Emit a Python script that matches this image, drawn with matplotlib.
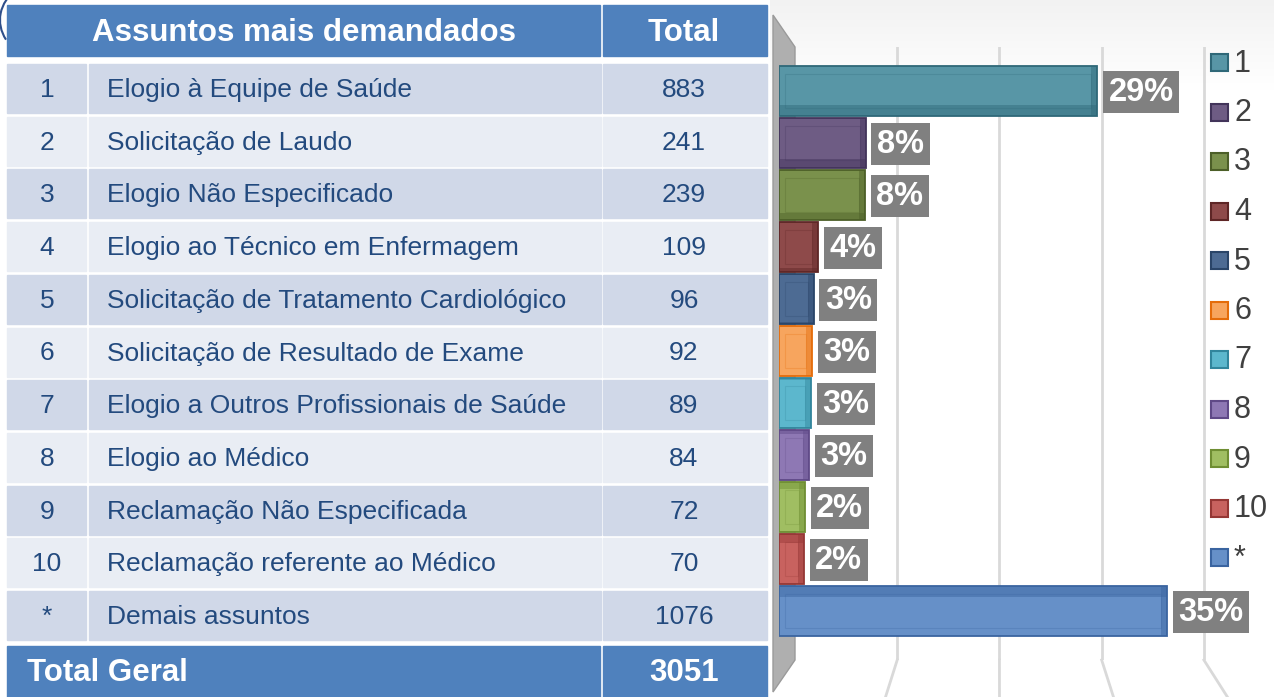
import numpy as np
import matplotlib
matplotlib.use('Agg')
import matplotlib.pyplot as plt
from matplotlib.patches import Rectangle, Polygon, Arc

plt.rcParams['font.family'] = ['Liberation Sans', 'DejaVu Sans']

# table / chart data
codes = ['1', '2', '3', '4', '5', '6', '7', '8', '9', '10', '*']
subjects = ['Elogio à Equipe de Saúde',
            'Solicitação de Laudo',
            'Elogio Não Especificado',
            'Elogio ao Técnico em Enfermagem',
            'Solicitação de Tratamento Cardiológico',
            'Solicitação de Resultado de Exame',
            'Elogio a Outros Profissionais de Saúde',
            'Elogio ao Médico',
            'Reclamação Não Especificada',
            'Reclamação referente ao Médico',
            'Demais assuntos']
totals = [883, 241, 239, 109, 96, 92, 89, 84, 72, 70, 1076]
grand_total = 3051
pct = [t / grand_total * 100 for t in totals]

face_colors = ['#5896A6', '#6E5C84', '#7A914C', '#8E4A4A', '#4D6B93', '#F7A55E',
               '#5CB7CD', '#8E78B4', '#A0BE62', '#C8625F', '#6690C8']
edge_colors = ['#2F6878', '#42345A', '#4C5F28', '#5E2626', '#2A4568', '#E46C0A',
               '#31859C', '#5F4987', '#6F8E33', '#953735', '#3A64A0']

W, H = 1274, 697
fig = plt.figure(figsize=(W / 100, H / 100), dpi=100)
fig.patch.set_facecolor('white')


def px_axes(x0, y0, x1, y1):
    return fig.add_axes([x0 / W, 1 - y1 / H, (x1 - x0) / W, (y1 - y0) / H])


# background axes in pixel units (y down)
bg = fig.add_axes([0, 0, 1, 1])
bg.set_xlim(0, W)
bg.set_ylim(H, 0)
bg.axis('off')

# light gray gradient above the chart
grad = np.linspace(0.95, 1.0, 100).reshape(-1, 1)
bg.imshow(np.dstack([grad, grad, grad]), extent=(770, W, 90, 0), aspect='auto', zorder=0)

# decorative arcs
bg.add_patch(Arc((60, 20), 120, 90, theta1=160, theta2=215, color='#2F4F8A', lw=1.5))
bg.add_patch(Arc((1330, 740), 150, 220, theta1=110, theta2=180, color='#2F4F8A', lw=1.5))

# table
hdr_blue = '#4F81BD'
txt_blue = '#234A7E'
c1, c2, c3, c4 = 7, 87, 601, 767
bg.add_patch(Rectangle((c1, 5), c3 - c1 - 1, 51, color=hdr_blue))
bg.add_patch(Rectangle((c3 + 1.5, 5), c4 - c3 - 1.5, 51, color=hdr_blue))
bg.text((c1 + c3) / 2, 33, 'Assuntos mais demandados', color='white', fontsize=22.5,
        fontweight='bold', ha='center', va='center')
bg.text((c3 + c4) / 2, 33, 'Total', color='white', fontsize=22.5,
        fontweight='bold', ha='center', va='center')

row_top, row_pitch, row_h = 64, 52.7, 49
for i, (code, subj, tot) in enumerate(zip(codes, subjects, totals)):
    y0 = row_top + i * row_pitch
    col = '#D0D8E8' if i % 2 == 0 else '#E9EDF4'
    bg.add_patch(Rectangle((c1, y0), c2 - c1 - 1, row_h, color=col))
    bg.add_patch(Rectangle((c2 + 1.5, y0), c3 - c2 - 2, row_h, color=col))
    bg.add_patch(Rectangle((c3 + 1.5, y0), c4 - c3 - 1.5, row_h, color=col))
    yc = y0 + row_h / 2 + 1.5
    bg.text((c1 + c2) / 2, yc, code, color=txt_blue, fontsize=19, ha='center', va='center')
    bg.text(107, yc, subj, color=txt_blue, fontsize=19, ha='left', va='center')
    bg.text((c3 + c4) / 2, yc, str(tot), color=txt_blue, fontsize=19, ha='center', va='center')

bg.add_patch(Rectangle((c1, 646), c3 - c1 - 1, 51, color=hdr_blue))
bg.add_patch(Rectangle((c3 + 1.5, 646), c4 - c3 - 1.5, 51, color=hdr_blue))
bg.text(27, 673, 'Total Geral', color='white', fontsize=22.5, fontweight='bold',
        ha='left', va='center')
bg.text((c3 + c4) / 2, 673, str(grand_total), color='white', fontsize=22.5,
        fontweight='bold', ha='center', va='center')

# 3D side wall
bg.add_patch(Polygon([(773, 15), (795, 47), (795, 660), (773, 692)], closed=True,
                     facecolor='#AFAFAF', edgecolor='#9A9A9A', lw=1, zorder=2))

# back wall gridlines
back_x0, back_x1, back_y0, back_y1 = 795, 1255, 47, 660
back = px_axes(back_x0, back_y0, back_x1, back_y1)
back.set_facecolor('none')
back.set_xlim(0, 45)
back.set_xticks([10, 20, 30, 40])
back.set_yticks([])
back.tick_params(length=0, labelbottom=False)
back.grid(axis='x', color='#D9D9D9', lw=2)
for s in back.spines.values():
    s.set_visible(False)

# floor lines, projected from the gridlines
vanish_x = 999
for t in back.get_xticks():
    gx = back_x0 + t * (back_x1 - back_x0) / 45
    bg.plot([gx, gx + (gx - vanish_x) * 0.115], [back_y1, H], color='#D9D9D9', lw=2)

# bars
ax = px_axes(779, 65, 1274, 637)
ax.set_facecolor('none')
ax.set_xlim(0, 45)
ax.set_ylim(10.5, -0.5)
ax.axis('off')

idx = np.arange(len(codes))
bh = 0.95
ax.barh(idx, pct, height=bh, color=face_colors, edgecolor=edge_colors, lw=1.3)
# darker depth strips and end faces for a 3D look
for i, p in enumerate(pct):
    depth = abs(i - 5) / 5 * 0.2
    if depth > 0:
        yc = i + bh / 2 - depth / 2 if i < 5 else i - bh / 2 + depth / 2
        ax.barh(yc, p, height=depth, color=edge_colors[i], alpha=0.45, lw=0)
    ax.barh(i, 0.55, left=p - 0.55, height=bh, color=edge_colors[i], alpha=0.45, lw=0)
    ax.barh(i, p - 1.1, left=0.55, height=bh - 0.3, facecolor='none',
            edgecolor=edge_colors[i], lw=0.8, alpha=0.25)

for i, p in enumerate(pct):
    ax.annotate(f'{p:.0f}%', (p, i), xytext=(8, -1), textcoords='offset points',
                ha='left', va='center', color='white', fontsize=23.5, fontweight='bold',
                bbox=dict(boxstyle='square,pad=0.17', fc='#808080', ec='none'),
                annotation_clip=False)

# legend
for i, code in enumerate(codes):
    yc = 62.5 + i * 49.5
    bg.add_patch(Rectangle((1211, yc - 8.5), 17, 17, facecolor=face_colors[i],
                           edgecolor=edge_colors[i], lw=1.5, zorder=5))
    bg.text(1234, yc + 1, code, color='#404040', fontsize=22, ha='left', va='center', zorder=5)

fig.savefig('out.png', dpi=100, facecolor=fig.get_facecolor())
